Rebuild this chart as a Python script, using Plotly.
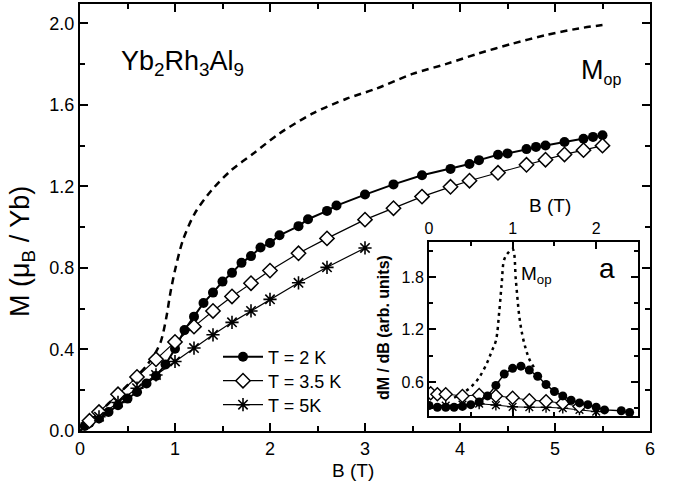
import plotly.graph_objects as go

# ---------------- main panel data ----------------
B_2K = [0.05, 0.1, 0.2, 0.3, 0.4, 0.5, 0.6, 0.7, 0.8, 0.9, 1.0, 1.1, 1.2, 1.3, 1.4, 1.5, 1.6, 1.7,
        1.8, 1.9, 2.0, 2.1, 2.3, 2.4, 2.6, 2.7, 3.0, 3.3, 3.6, 3.9, 4.1, 4.2, 4.4, 4.5, 4.7, 4.8,
        4.9, 5.1, 5.3, 5.4, 5.5]
M_2K = [0.025, 0.04, 0.061, 0.093, 0.126, 0.159, 0.191, 0.233, 0.27, 0.326, 0.404, 0.495, 0.561,
        0.628, 0.679, 0.733, 0.776, 0.825, 0.858, 0.90, 0.922, 0.96, 1.005, 1.039, 1.08, 1.106,
        1.16, 1.21, 1.255, 1.286, 1.31, 1.329, 1.355, 1.362, 1.383, 1.394, 1.401, 1.418, 1.434,
        1.443, 1.451]

B_35K = [0.1, 0.2, 0.4, 0.6, 0.8, 1.0, 1.2, 1.4, 1.6, 1.8, 2.0, 2.3, 2.6, 3.0, 3.3, 3.6, 3.9,
         4.1, 4.4, 4.7, 4.9, 5.1, 5.3, 5.5]
M_35K = [0.05, 0.093, 0.18, 0.265, 0.352, 0.437, 0.512, 0.589, 0.66, 0.725, 0.787, 0.872, 0.945,
         1.037, 1.093, 1.15, 1.198, 1.228, 1.267, 1.306, 1.331, 1.357, 1.378, 1.40]

B_5K = [0.2, 0.4, 0.6, 0.8, 1.0, 1.2, 1.4, 1.6, 1.8, 2.0, 2.3, 2.6, 3.0]
M_5K = [0.07, 0.14, 0.21, 0.275, 0.341, 0.407, 0.472, 0.533, 0.589, 0.646, 0.727, 0.803, 0.898]

B_op = [0.0, 0.2, 0.4, 0.6, 0.7, 0.8, 0.855, 0.91, 0.95, 1.0, 1.083, 1.207, 1.383, 1.593, 1.821,
        2.10, 2.45, 2.805, 3.12, 3.5, 3.85, 4.2, 4.55, 4.9, 5.25, 5.5]
M_op = [0.0, 0.09, 0.18, 0.27, 0.32, 0.388, 0.445, 0.56, 0.674, 0.789, 0.936, 1.067, 1.18, 1.28,
        1.36, 1.46, 1.558, 1.63, 1.68, 1.752, 1.80, 1.853, 1.90, 1.942, 1.975, 1.992]

# ---------------- inset data (dM/dB) ----------------
Bi_2K = [0.0, 0.1, 0.2, 0.3, 0.4, 0.5, 0.6, 0.7, 0.8, 0.9, 1.0, 1.1, 1.2, 1.3, 1.4, 1.5, 1.6,
         1.7, 1.8, 1.9, 2.0, 2.1, 2.3, 2.4]
D_2K = [0.33, 0.31, 0.31, 0.31, 0.32, 0.34, 0.37, 0.44, 0.56, 0.69, 0.755, 0.78, 0.735, 0.665,
        0.57, 0.49, 0.44, 0.39, 0.36, 0.34, 0.31, 0.28, 0.27, 0.25]

Bi_35K = [0.02, 0.1, 0.2, 0.4, 0.6, 0.8, 1.0, 1.2, 1.4, 1.6, 1.8]
D_35K = [0.47, 0.46, 0.46, 0.44, 0.45, 0.44, 0.42, 0.39, 0.38, 0.355, 0.32]

Bi_5K = [0.2, 0.4, 0.6, 0.8, 1.0, 1.2, 1.4, 1.6, 1.8, 2.0]
D_5K = [0.33, 0.34, 0.35, 0.335, 0.315, 0.31, 0.31, 0.30, 0.28, 0.26]

Bi_op = [0.3, 0.4, 0.5, 0.6, 0.7, 0.75, 0.8, 0.84, 0.87, 0.9, 0.95, 1.0, 1.04, 1.08, 1.12,
         1.16, 1.2, 1.26]
D_op = [0.42, 0.47, 0.54, 0.65, 0.83, 0.95, 1.07, 1.4, 1.73, 2.0, 2.08, 2.12, 1.75, 1.35, 1.12,
        0.97, 0.86, 0.76]

FONT = "Liberation Sans, Arial, sans-serif"

# plot-area geometry helpers (pixels -> paper)
L, R, T, Bm = 80, 23, 4, 66
W, H = 673, 497
PW, PH = W - L - R, H - T - Bm


def px(xp):
    return (xp - L) / PW


def py(yp):
    return (H - Bm - yp) / PH


fig = go.Figure()

# main panel
fig.add_trace(go.Scatter(x=B_op, y=M_op, mode="lines", showlegend=False,
                         line=dict(color="black", width=2.5, dash="7px,5px", shape="spline",
                                   smoothing=0.8)))
fig.add_trace(go.Scatter(x=B_2K, y=M_2K, mode="lines+markers", name="T = 2 K", legend="legend",
                         line=dict(color="black", width=2),
                         marker=dict(symbol="circle", size=10, color="black")))
fig.add_trace(go.Scatter(x=B_35K, y=M_35K, mode="lines+markers", name="T = 3.5 K",
                         legend="legend2",
                         line=dict(color="black", width=1.2),
                         marker=dict(symbol="diamond", size=11, color="white",
                                     line=dict(color="black", width=1.5))))
fig.add_trace(go.Scatter(x=B_5K, y=M_5K, mode="lines+markers", name="T = 5K", legend="legend3",
                         line=dict(color="black", width=1.2),
                         marker=dict(symbol="asterisk-open", size=11, color="black",
                                     line=dict(color="black", width=1.6))))

# inset
fig.add_trace(go.Scatter(x=Bi_op, y=D_op, mode="lines", showlegend=False, xaxis="x2", yaxis="y2",
                         line=dict(color="black", width=2.5, dash="3px,4px", shape="spline")))
fig.add_trace(go.Scatter(x=Bi_5K, y=D_5K, mode="lines+markers", showlegend=False,
                         xaxis="x2", yaxis="y2",
                         line=dict(color="black", width=1),
                         marker=dict(symbol="asterisk-open", size=9, color="black",
                                     line=dict(color="black", width=1.4))))
fig.add_trace(go.Scatter(x=Bi_35K, y=D_35K, mode="lines+markers", showlegend=False,
                         xaxis="x2", yaxis="y2",
                         line=dict(color="black", width=1),
                         marker=dict(symbol="diamond", size=10, color="white",
                                     line=dict(color="black", width=1.4))))
fig.add_trace(go.Scatter(x=Bi_2K, y=D_2K, mode="lines+markers", showlegend=False,
                         xaxis="x2", yaxis="y2",
                         line=dict(color="black", width=1.5),
                         marker=dict(symbol="circle", size=9, color="black")))

axis_common = dict(showline=True, linecolor="black", linewidth=2, mirror="allticks",
                   ticks="inside", tickcolor="black", tickwidth=1.5, showgrid=False,
                   zeroline=False, automargin=False,
                   tickfont=dict(family=FONT, size=18, color="black"))
inset_common = {**axis_common, "tickfont": dict(family=FONT, size=16, color="black")}

leg_common = dict(xanchor="left", yanchor="middle", bgcolor="rgba(0,0,0,0)",
                  font=dict(family=FONT, size=18, color="black"), itemwidth=40)

fig.update_layout(
    width=W, height=H,
    margin=dict(l=L, r=R, t=T, b=Bm),
    paper_bgcolor="white", plot_bgcolor="white",
    font=dict(family=FONT, color="black"),
    xaxis=dict(range=[0, 6], dtick=1, tick0=0, ticklen=8,
               minor=dict(dtick=0.5, ticklen=5, ticks="inside", tickcolor="black", tickwidth=1.5),
               **axis_common),
    yaxis=dict(range=[0, 2.095], dtick=0.4, tick0=0, tickformat=".1f", ticklen=8,
               minor=dict(dtick=0.2, ticklen=5, ticks="inside", tickcolor="black", tickwidth=1.5),
               **axis_common),
    xaxis2=dict(domain=[px(429), px(638)], anchor="y2", side="top", range=[0, 2.5], dtick=1,
                tick0=0, ticklen=7,
                minor=dict(dtick=0.5, ticklen=4, ticks="inside", tickcolor="black", tickwidth=1.5),
                **inset_common),
    yaxis2=dict(domain=[py(416), py(242)], anchor="x2", range=[0.21, 2.2], dtick=0.6, tick0=0,
                tickformat=".1f", ticklen=7,
                minor=dict(dtick=0.3, ticklen=4, ticks="inside", tickcolor="black", tickwidth=1.5),
                **inset_common),
    legend=dict(x=px(218), y=py(357), **leg_common),
    legend2=dict(x=px(218), y=py(381), **leg_common),
    legend3=dict(x=px(218), y=py(405), **leg_common),
    showlegend=True,
)


def label(xp, yp, text, size, angle=0, xanchor="center"):
    fig.add_annotation(x=px(xp), y=py(yp), xref="paper", yref="paper", text=text,
                       xanchor=xanchor, yanchor="middle", textangle=angle, showarrow=False,
                       font=dict(family=FONT, size=size, color="black"))


# axis titles
label(353, 470, "B (T)", 19)
label(22, 252, "M (μ<sub>B</sub> / Yb)", 27, angle=-90)
label(550, 205, "B (T)", 19)
label(383, 328, "<b>dM / dB (arb. units)</b>", 16, angle=-90)

# text labels
label(119, 63, "Yb<sub>2</sub>Rh<sub>3</sub>Al<sub>9</sub>", 27, xanchor="left")
label(579, 72, "M<sub><span style=\"font-size:16px\">op</span></sub>", 27, xanchor="left")
fig.add_annotation(x=1.08, y=1.82, xref="x2", yref="y2", xanchor="left", yanchor="middle",
                   text="M<sub>op</sub>", showarrow=False,
                   font=dict(family=FONT, size=19, color="black"))
fig.add_annotation(x=2.13, y=1.9, xref="x2", yref="y2", xanchor="center", yanchor="middle",
                   text="a", showarrow=False,
                   font=dict(family=FONT, size=28, color="black"))

fig.write_html("out.html", config={"displayModeBar": False},
               post_script="document.body.style.margin='0px';")
